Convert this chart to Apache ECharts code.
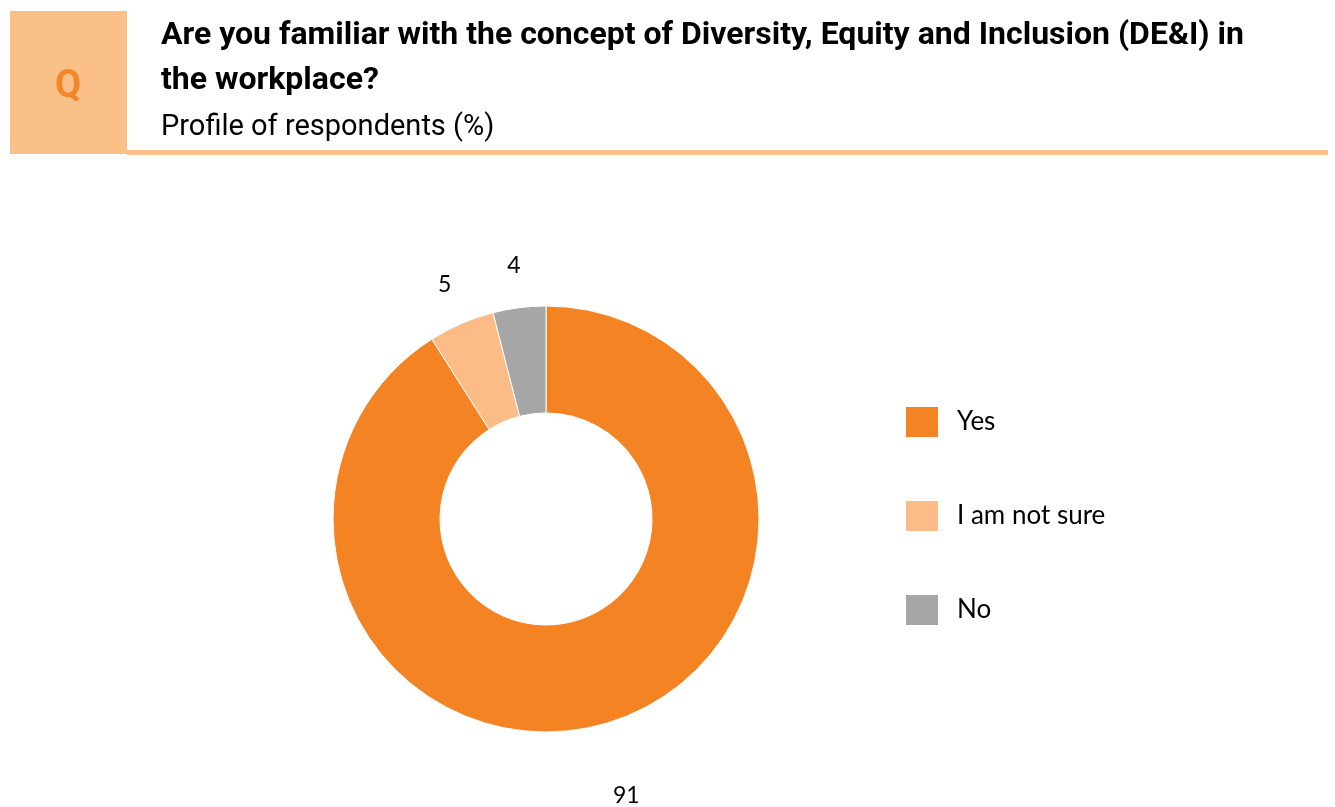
<!DOCTYPE html>
<html>
<head>
<meta charset="utf-8">
<script src="https://cdn.jsdelivr.net/npm/echarts@6/dist/echarts.min.js"></script>
<style>
  html, body { margin: 0; padding: 0; background: #fff; }
  #chart { width: 1335px; height: 807px; }
</style>
</head>
<body>
<div id="chart"></div>
<script>
// Survey answers and their shares (%)
const categories = ['Yes', 'I am not sure', 'No'];
const shares = [91, 5, 4];
const sliceColors = ['#F48423', '#FBBC87', '#A6A6A6'];
// distance of each value label beyond the outer edge
const labelReach = [75, 42, 42];

const questionLine1 = 'Are you familiar with the concept of Diversity, Equity and Inclusion (DE&I) in';
const questionLine2 = 'the workplace?';
const subtitle = 'Profile of respondents (%)';

const chart = echarts.init(document.getElementById('chart'), null, { renderer: 'canvas' });

const option = {
  backgroundColor: '#ffffff',
  animation: false,
  graphic: [
    { type: 'rect', shape: { x: 10, y: 11, width: 117, height: 143 }, style: { fill: '#FBBF88' } },
    { type: 'rect', shape: { x: 127, y: 150, width: 1201, height: 5 }, style: { fill: '#FBBF88' } },
    { type: 'text', x: 68, y: 87, style: { text: 'Q', fill: '#F4862A', font: 'bold 38px Roboto', textAlign: 'center', textVerticalAlign: 'middle' } },
    { type: 'text', x: 161, y: 36, style: { text: questionLine1, fill: '#000', font: 'bold 32px Roboto', textVerticalAlign: 'middle' } },
    { type: 'text', x: 161, y: 81, style: { text: questionLine2, fill: '#000', font: 'bold 32px Roboto', textVerticalAlign: 'middle' } },
    { type: 'text', x: 161, y: 128, style: { text: subtitle, fill: '#000', font: '29px Roboto', textVerticalAlign: 'middle' } }
  ],
  legend: {
    orient: 'vertical',
    left: 904,
    top: 405,
    padding: 0,
    itemWidth: 34,
    itemHeight: 32,
    itemGap: 60,
    icon: 'rect',
    data: categories,
    textStyle: { fontFamily: 'Lato', fontSize: 26, color: '#000', padding: [0, 0, 0, 13] }
  },
  series: [{
    type: 'pie',
    center: [546, 519],
    radius: [106, 213],
    startAngle: 90,
    clockwise: true,
    avoidLabelOverlap: false,
    itemStyle: { borderColor: '#ffffff', borderWidth: 1 },
    label: {
      show: true,
      position: 'outside',
      formatter: '{c}',
      fontFamily: 'Lato',
      fontSize: 23,
      color: '#000',
      distanceToLabelLine: 0
    },
    labelLine: { show: false, length2: 0 },
    labelLayout: { align: 'center', verticalAlign: 'middle' },
    emphasis: { disabled: true },
    data: categories.map((name, i) => ({
      name: name,
      value: shares[i],
      itemStyle: { color: sliceColors[i] },
      labelLine: { show: false, length: labelReach[i], length2: 0 }
    }))
  }]
};

chart.setOption(option);
</script>
</body>
</html>
